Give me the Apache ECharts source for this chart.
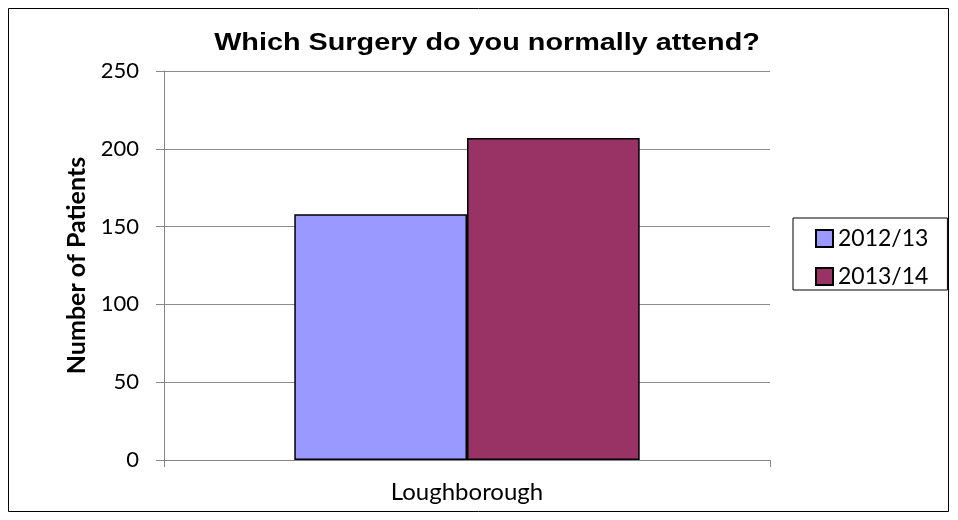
<!DOCTYPE html>
<html>
<head>
<meta charset="utf-8">
<script src="https://cdn.jsdelivr.net/npm/echarts@6/dist/echarts.min.js"></script>
<style>
  html, body { margin: 0; padding: 0; background: #fff; }
  #chart { width: 958px; height: 520px; }
</style>
</head>
<body>
<div id="chart"></div>
<script>
const categories = ['Loughborough'];
const seriesNames = ['2012/13', '2013/14'];
const values2012 = [158];
const values2013 = [207];
const colors = ['#9999FF', '#993366'];

const chart = echarts.init(document.getElementById('chart'));
chart.setOption({
    animation: false,
    graphic: [
        {
            type: 'rect',
            shape: { x: 8.5, y: 8.5, width: 940, height: 503 },
            style: { fill: 'none', stroke: '#000', lineWidth: 1 }
        },
        {
            // title is drawn a bit wider than normal, like the original
            type: 'text',
            x: 487,
            y: 43,
            scaleX: 1.2,
            style: {
                text: 'Which Surgery do you normally attend?',
                align: 'center',
                verticalAlign: 'middle',
                fontFamily: 'Liberation Sans',
                fontWeight: 'bold',
                fontSize: 24,
                fill: '#000'
            }
        }
    ],
    legend: {
        orient: 'vertical',
        left: 793,
        top: 218,
        padding: [9, 19, 2, 22],
        borderColor: '#000',
        borderWidth: 1,
        itemWidth: 17,
        itemHeight: 17,
        itemGap: 15,
        icon: 'rect',
        data: seriesNames,
        textStyle: {
            fontFamily: 'Lato',
            fontSize: 23,
            color: '#000'
        }
    },
    grid: {
        left: 164,
        right: 188,
        top: 71,
        bottom: 60
    },
    xAxis: {
        type: 'category',
        data: categories,
        axisLine: { lineStyle: { color: '#868686', width: 1 } },
        axisTick: { show: true, length: 7, lineStyle: { color: '#868686' } },
        axisLabel: {
            margin: 20,
            fontFamily: 'Lato',
            fontSize: 24,
            color: '#000'
        }
    },
    yAxis: {
        type: 'value',
        min: 0,
        max: 250,
        interval: 50,
        name: 'Number of Patients',
        nameLocation: 'middle',
        nameGap: 74,
        nameTextStyle: {
            fontFamily: 'Lato',
            fontWeight: 'bold',
            fontSize: 25,
            color: '#000'
        },
        axisLine: { show: true, lineStyle: { color: '#868686', width: 1 } },
        axisTick: { show: true, length: 8, lineStyle: { color: '#868686' } },
        axisLabel: {
            margin: 25,
            fontFamily: 'Lato',
            fontSize: 22,
            color: '#000'
        },
        splitLine: { lineStyle: { color: '#8c8c8c', width: 1 } }
    },
    series: [
        {
            name: seriesNames[0],
            type: 'bar',
            data: values2012,
            barGap: '0%',
            barCategoryGap: '43%',
            itemStyle: { color: colors[0], borderColor: '#000', borderWidth: 1.5 }
        },
        {
            name: seriesNames[1],
            type: 'bar',
            data: values2013,
            barGap: '0%',
            barCategoryGap: '43%',
            itemStyle: { color: colors[1], borderColor: '#000', borderWidth: 1.5 }
        }
    ]
});
</script>
</body>
</html>
